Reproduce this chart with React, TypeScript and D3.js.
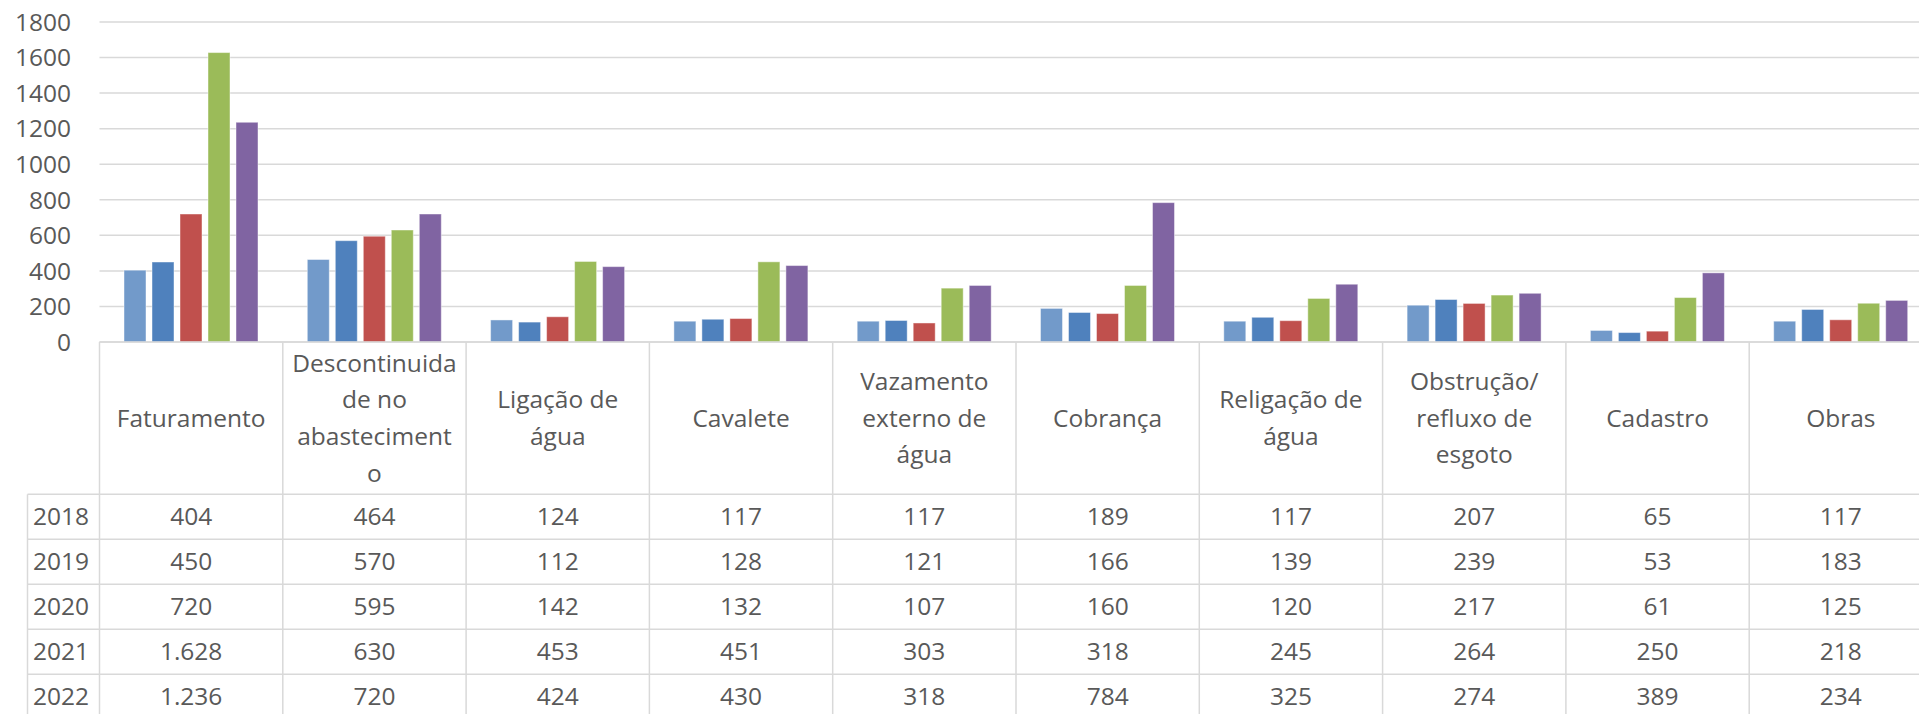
import * as d3 from "d3";

const categories = [
  "Faturamento",
  "Descontinuidade no abastecimento",
  "Ligação de água",
  "Cavalete",
  "Vazamento externo de água",
  "Cobrança",
  "Religação de água",
  "Obstrução/ refluxo de esgoto",
  "Cadastro",
  "Obras",
];

// header text as Excel wrapped it
const categoryLines = [
  ["Faturamento"],
  ["Descontinuida", "de no", "abasteciment", "o"],
  ["Ligação de", "água"],
  ["Cavalete"],
  ["Vazamento", "externo de", "água"],
  ["Cobrança"],
  ["Religação de", "água"],
  ["Obstrução/", "refluxo de", "esgoto"],
  ["Cadastro"],
  ["Obras"],
];

const years = ["2018", "2019", "2020", "2021", "2022"];

const values2018 = [404, 464, 124, 117, 117, 189, 117, 207, 65, 117];
const values2019 = [450, 570, 112, 128, 121, 166, 139, 239, 53, 183];
const values2020 = [720, 595, 142, 132, 107, 160, 120, 217, 61, 125];
const values2021 = [1628, 630, 453, 451, 303, 318, 245, 264, 250, 218];
const values2022 = [1236, 720, 424, 430, 318, 784, 325, 274, 389, 234];

const seriesValues = [values2018, values2019, values2020, values2021, values2022];
const colors = ["#729aca", "#4f81bd", "#c0504d", "#9bbb59", "#8064a2"];

const yTicks = [0, 200, 400, 600, 800, 1000, 1200, 1400, 1600, 1800];

const W = 1919;
const H = 714;
const FONT = "'Open Sans', Lato, sans-serif";
const FS = 24.5;
const TEXT = "#595959";
const GRID = "#d9d9d9";

const ptBR = d3.formatLocale({
  decimal: ",",
  thousands: ".",
  grouping: [3],
  currency: ["R$", ""],
});
const fmt = ptBR.format(",d");

export default function App() {
  const plotLeft = 99.5;
  const catWidth = 183.3;
  const y = d3.scaleLinear().domain([0, 1800]).range([342, 22]);
  const x = d3
    .scaleBand<string>()
    .domain(categories)
    .range([plotLeft, plotLeft + catWidth * categories.length])
    .padding(0);
  const xs = d3
    .scaleBand<string>()
    .domain(years)
    .range([24.5, 158.5])
    .paddingInner(6 / 28)
    .paddingOuter(0);

  const headerTop = 342;
  const headerBottom = 494.3;
  const rowH = 45;
  const headerMid = (headerTop + headerBottom) / 2;
  const lineH = 36.7;
  const tableLeft = 27.5;

  return (
    <svg
      width={W}
      height={H}
      style={{ position: "absolute", left: 0, top: 0, background: "#fff" }}
      fontFamily={FONT}
    >
      {/* gridlines */}
      {yTicks.map((t) => (
        <line
          key={"g" + t}
          x1={plotLeft}
          x2={W}
          y1={y(t)}
          y2={y(t)}
          stroke={GRID}
          strokeWidth={1.5}
        />
      ))}
      {/* y tick labels */}
      {yTicks.map((t) => (
        <text
          key={"t" + t}
          x={71}
          y={y(t)}
          dy="0.36em"
          textAnchor="end"
          fontSize={FS}
          fill={TEXT}
        >
          {t}
        </text>
      ))}
      {/* bars */}
      {categories.map((c, ci) => (
        <g key={c} transform={`translate(${x(c)},0)`}>
          {years.map((yr, si) => {
            const v = seriesValues[si][ci];
            return (
              <rect
                key={yr}
                x={xs(yr)}
                y={y(v)}
                width={xs.bandwidth()}
                height={y(0) - y(v)}
                fill={colors[si]}
                stroke="#fff"
                strokeOpacity={0.45}
                strokeWidth={1}
              />
            );
          })}
        </g>
      ))}
      {/* table: horizontal lines */}
      <line x1={plotLeft} x2={W} y1={headerTop} y2={headerTop} stroke={GRID} strokeWidth={1.5} />
      {d3.range(years.length + 1).map((i) => (
        <line
          key={"h" + i}
          x1={tableLeft}
          x2={W}
          y1={headerBottom + i * rowH}
          y2={headerBottom + i * rowH}
          stroke={GRID}
          strokeWidth={1.5}
        />
      ))}
      {/* vertical lines */}
      <line x1={tableLeft} x2={tableLeft} y1={headerBottom} y2={H} stroke={GRID} strokeWidth={1.5} />
      {d3.range(categories.length + 1).map((i) => {
        const xx = plotLeft + i * catWidth;
        return (
          <line key={"v" + i} x1={xx} x2={xx} y1={headerTop} y2={H} stroke={GRID} strokeWidth={1.5} />
        );
      })}
      {/* header labels */}
      {categories.map((c, ci) => {
        const lines = categoryLines[ci];
        const cx = (x(c) as number) + x.bandwidth() / 2;
        return (
          <text key={"hl" + c} textAnchor="middle" fontSize={FS} fill={TEXT}>
            {lines.map((ln, li) => (
              <tspan
                key={li}
                x={cx}
                y={headerMid + (li - (lines.length - 1) / 2) * lineH}
                dy="0.35em"
              >
                {ln}
              </tspan>
            ))}
          </text>
        );
      })}
      {/* rows */}
      {years.map((yr, si) => {
        const cy = headerBottom + si * rowH + rowH / 2;
        return (
          <g key={"r" + yr}>
            <text x={33} y={cy} dy="0.33em" fontSize={FS} fill={TEXT}>
              {yr}
            </text>
            {categories.map((c, ci) => (
              <text
                key={c}
                x={(x(c) as number) + x.bandwidth() / 2}
                y={cy}
                dy="0.33em"
                textAnchor="middle"
                fontSize={FS}
                fill={TEXT}
              >
                {fmt(seriesValues[si][ci])}
              </text>
            ))}
          </g>
        );
      })}
    </svg>
  );
}
